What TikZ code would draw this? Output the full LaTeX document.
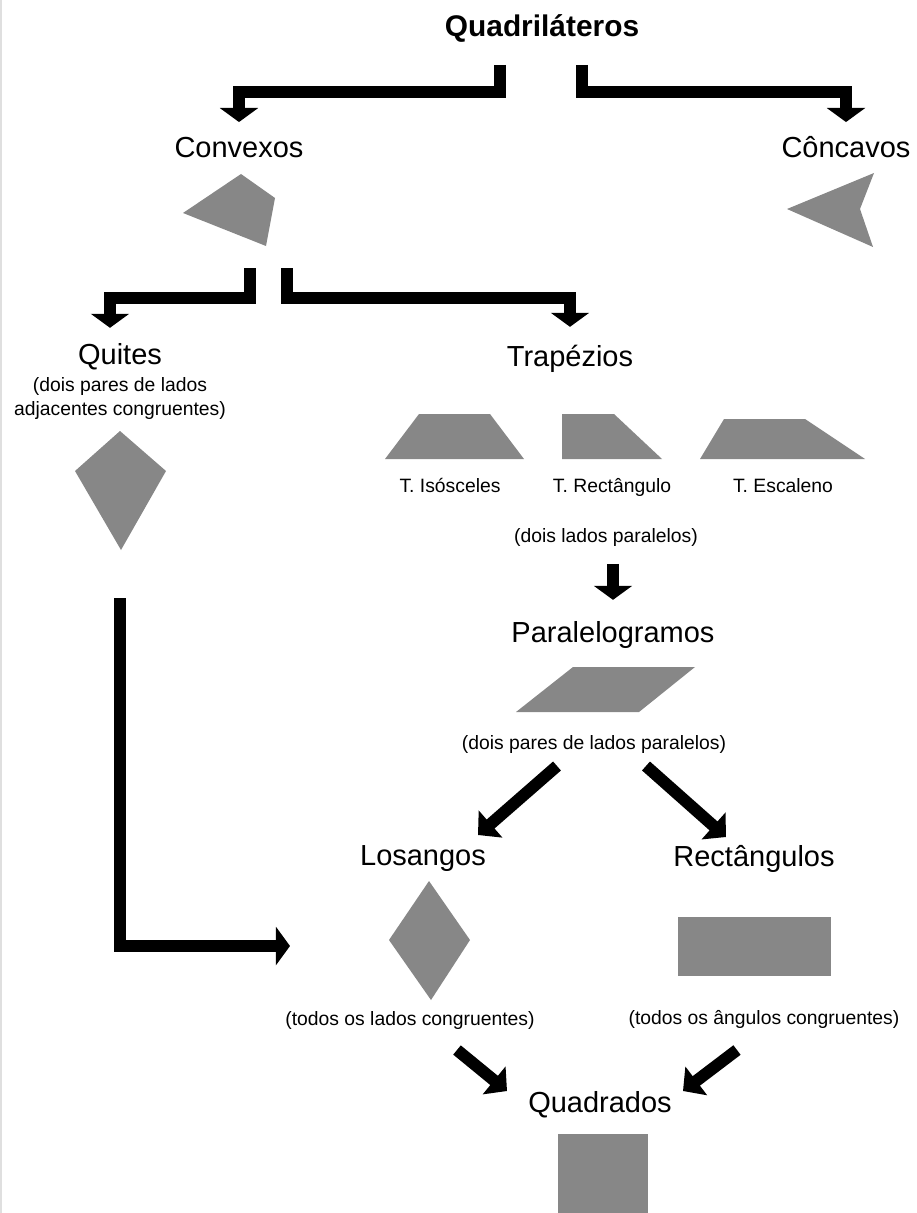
\documentclass[tikz,border=0pt]{standalone}
\usepackage{fontspec}
\setmainfont{Liberation Sans}
\usetikzlibrary{arrows.meta, positioning, calc}
\usepackage{xcolor}
\definecolor{cinza}{HTML}{878787}
\tikzstyle{seta} = [
    line width=6.8pt,
    -{Triangle[width=21.5pt,length=8pt]},
    shorten >=8pt
]
\tikzstyle{setadiag} = [
    line width=6.8pt,
    -{Triangle[width=20pt,length=9.5pt]}
]
\tikzstyle{titulo} = [font=\bfseries\fontsize{17}{20}\selectfont, inner sep=0pt, text height=12.5pt, text depth=0pt]
\tikzstyle{classe} = [font=\fontsize{16.5}{19}\selectfont, inner sep=0pt, text height=12pt, text depth=0pt]
\tikzstyle{nota} = [font=\fontsize{11}{14}\selectfont, inner sep=0pt, text height=8pt, text depth=0pt]
\tikzstyle{forma} = [fill=cinza]

\begin{document}
\begin{tikzpicture}[x=0.02cm, y=-0.02cm]
\useasboundingbox (0,0) rectangle (916,1213);
% page edge
\draw[gray!25, line width=1.2pt] (1,0) -- (1,1213);

% Quadrilateros -> convexos / concavos
\node[titulo] (quad) at (542,26) {Quadriláteros};
\node[classe] (convexos) at (239,147) {Convexos};
\node[classe] (concavos) at (846,147) {Côncavos};
\coordinate (quad-esq) at (500,65);
\coordinate (quad-dir) at (582,65);
\draw[seta] (quad-esq) -- ++(0,27) -| (convexos);
\draw[seta] (quad-dir) -- ++(0,27) -| (concavos);

\fill[forma] (241,174) -- (275,198) -- (266,246) -- (183,213) -- cycle;
\fill[forma] (787,209) -- (874,173) -- (860,209) -- (873,247) -- cycle;

% Convexos -> quites / trapezios
\node[classe] (quites) at (120,354) {Quites};
\node[classe] (trapezios) at (570,356) {Trapézios};
\coordinate (conv-esq) at (250,268);
\coordinate (conv-dir) at (287,268);
\draw[seta, shorten >=8.7pt] (conv-esq) -- ++(0,30) -| ([xshift=-5.7pt]quites.north);
\draw[seta, shorten >=10.4pt] (conv-dir) -- ++(0,30) -| (trapezios);

\node[font=\fontsize{11}{14}\selectfont, align=center, inner sep=0pt, anchor=north] (quites-nota) at (120,377) {(dois pares de lados\\adjacentes congruentes)};
\fill[forma] (120,431) -- (166,471) -- (121,550) -- (75,471) -- cycle;

% three kinds of trapezium
\fill[forma] (385,459) -- (419,414) -- (490,414) -- (524,459) -- cycle;
\fill[forma] (562,459) -- (562,414) -- (614,414) -- (662,459) -- cycle;
\fill[forma] (700,459) -- (724,419) -- (805,419) -- (865,459) -- cycle;
\node[nota] (t-iso) at (450,485) {T. Isósceles};
\node[nota] (t-ret) at (612,485) {T. Rectângulo};
\node[nota] (t-esc) at (783,485) {T. Escaleno};
\node[nota] (trap-nota) at (606,535) {(dois lados paralelos)};

% Paralelogramos
\node[classe] (paralelogramos) at (613,632) {Paralelogramos};
\draw[seta, shorten <=16.4pt, shorten >=12.1pt] (trap-nota -| paralelogramos) -- (paralelogramos);
\fill[forma] (516,712) -- (573,667) -- (695,667) -- (639,712) -- cycle;
\node[nota] (par-nota) at (594,742) {(dois pares de lados paralelos)};

% losangos / rectangulos
\node[classe] (losangos) at (423,855) {Losangos};
\node[classe] (rectangulos) at (754,856) {Rectângulos};
\coordinate (par-esq) at (557,766);
\coordinate (par-dir) at (646,766);
\coordinate (los-seta) at (478,835);
\coordinate (ret-seta) at (726,837);
\draw[setadiag] (par-esq) -- (los-seta);
\draw[setadiag] (par-dir) -- (ret-seta);

\fill[forma] (429,881) -- (470,940) -- (431,1000) -- (389,940) -- cycle;
\fill[forma] (678,917) rectangle (831,976);
\node[nota] (los-nota) at (410,1018) {(todos os lados congruentes)};
\node[nota] (ret-nota) at (764,1017) {(todos os ângulos congruentes)};

% quites also lead to losangos
\coordinate (quites-saida) at (120,598);
\coordinate (los-entrada) at (290,946);
\draw[seta, shorten >=0pt] (quites-saida) |- (los-entrada);

% Quadrados
\node[classe] (quadrados) at (600,1102) {Quadrados};
\coordinate (los-saida) at (457,1050);
\coordinate (ret-saida) at (737,1050);
\coordinate (quad-esq-seta) at (507,1091);
\coordinate (quad-dir-seta) at (683,1091);
\draw[setadiag] (los-saida) -- (quad-esq-seta);
\draw[setadiag] (ret-saida) -- (quad-dir-seta);
\fill[forma] (558,1134) rectangle (648,1213);
\end{tikzpicture}
\end{document}
